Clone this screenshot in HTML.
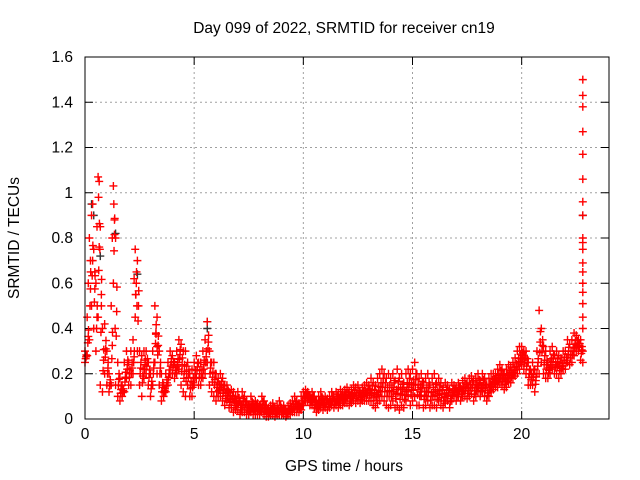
<!DOCTYPE html>
<html><head><meta charset="utf-8"><style>
body{margin:0;background:#fff}
svg{display:block;font-family:"Liberation Sans",sans-serif;font-size:15.5px}
</style></head><body>
<svg id="c" width="640" height="480">
<text x="344" y="33" text-anchor="middle">Day 099 of 2022, SRMTID for receiver cn19</text>
<text x="344" y="471" text-anchor="middle">GPS time / hours</text>
<text transform="translate(19,238) rotate(-90)" text-anchor="middle">SRMTID / TECUs</text>
<g id="grid"></g><g id="ticks"></g><g id="marks"></g>
<rect x="85" y="57" width="524" height="362" fill="none" stroke="#000" stroke-width="1"/>
</svg>
<script>
const xTicks=[0,5,10,15,20];
const yTicks=[0,0.2,0.4,0.6,0.8,1,1.2,1.4,1.6];
const yTickLabels=["0","0.2","0.4","0.6","0.8","1","1.2","1.4","1.6"];
const tStart=0, tStep=0.1;
const hiVals=[0.3,0.45,0.8,0.9,0.75,0.6,1.07,0.85,0.4,0.42,0.3,0.2,0.5,1.03,0.8,0.25,0.18,0.15,0.25,0.3,0.25,0.3,0.35,0.75,0.7,0.3,0.28,0.3,0.3,0.25,0.2,0.3,0.5,0.45,0.3,0.2,0.15,0.2,0.25,0.3,0.28,0.25,0.3,0.35,0.33,0.3,0.3,0.25,0.2,0.22,0.25,0.28,0.25,0.25,0.3,0.35,0.43,0.3,0.25,0.25,0.2,0.18,0.2,0.18,0.15,0.15,0.12,0.13,0.12,0.1,0.12,0.08,0.12,0.1,0.08,0.06,0.1,0.07,0.08,0.07,0.06,0.1,0.08,0.06,0.05,0.06,0.07,0.05,0.06,0.08,0.05,0.06,0.04,0.06,0.07,0.08,0.1,0.08,0.07,0.1,0.12,0.13,0.12,0.1,0.12,0.1,0.08,0.1,0.12,0.09,0.1,0.09,0.1,0.12,0.1,0.12,0.11,0.13,0.12,0.13,0.14,0.12,0.13,0.15,0.14,0.15,0.12,0.14,0.15,0.16,0.15,0.18,0.16,0.15,0.18,0.2,0.22,0.2,0.18,0.2,0.18,0.2,0.17,0.22,0.18,0.2,0.16,0.2,0.22,0.2,0.22,0.25,0.2,0.18,0.2,0.16,0.18,0.2,0.15,0.18,0.2,0.16,0.18,0.16,0.14,0.16,0.15,0.13,0.16,0.15,0.14,0.16,0.14,0.17,0.18,0.16,0.18,0.19,0.17,0.18,0.2,0.17,0.2,0.18,0.15,0.18,0.2,0.2,0.2,0.22,0.24,0.22,0.2,0.22,0.24,0.23,0.25,0.27,0.3,0.32,0.32,0.3,0.3,0.25,0.22,0.25,0.22,0.3,0.48,0.4,0.32,0.3,0.25,0.3,0.32,0.28,0.3,0.28,0.27,0.3,0.3,0.35,0.33,0.35,0.38,0.37,0.35,0.35];
const loVals=[0.25,0.28,0.35,0.5,0.4,0.3,0.45,0.15,0.12,0.2,0.15,0.12,0.15,0.6,0.15,0.1,0.08,0.1,0.12,0.18,0.15,0.15,0.2,0.45,0.3,0.15,0.1,0.18,0.2,0.15,0.1,0.15,0.25,0.2,0.15,0.08,0.1,0.12,0.15,0.2,0.2,0.18,0.2,0.22,0.15,0.12,0.1,0.15,0.1,0.1,0.15,0.18,0.15,0.15,0.18,0.2,0.25,0.15,0.12,0.1,0.08,0.1,0.1,0.08,0.06,0.08,0.05,0.05,0.03,0.04,0.04,0.02,0.03,0.03,0.02,0.02,0.03,0.02,0.02,0.02,0.02,0.03,0.02,0.01,0.01,0.02,0.02,0.01,0.02,0.02,0.02,0.02,0.01,0.02,0.02,0.03,0.03,0.03,0.03,0.04,0.06,0.08,0.08,0.06,0.06,0.05,0.03,0.04,0.05,0.04,0.05,0.04,0.05,0.06,0.05,0.06,0.05,0.06,0.06,0.07,0.07,0.06,0.07,0.08,0.07,0.08,0.07,0.08,0.08,0.08,0.08,0.08,0.06,0.05,0.07,0.08,0.1,0.08,0.06,0.05,0.06,0.08,0.05,0.06,0.04,0.06,0.05,0.08,0.1,0.06,0.08,0.1,0.06,0.06,0.1,0.05,0.06,0.08,0.05,0.06,0.06,0.05,0.08,0.06,0.05,0.07,0.08,0.05,0.08,0.1,0.08,0.1,0.08,0.1,0.1,0.09,0.1,0.11,0.08,0.1,0.12,0.1,0.12,0.1,0.08,0.1,0.12,0.13,0.14,0.14,0.16,0.15,0.13,0.14,0.16,0.16,0.18,0.19,0.2,0.22,0.24,0.22,0.2,0.15,0.15,0.15,0.12,0.2,0.2,0.25,0.2,0.18,0.18,0.2,0.22,0.2,0.2,0.18,0.2,0.22,0.22,0.25,0.24,0.25,0.28,0.3,0.3,0.26];
const extraT=[0.15,0.25,0.35,0.45,0.55,0.62,0.65,0.68,0.75,1.25,1.32,1.35,1.38,2.25,2.32,2.38,3.25,3.3,22.8,22.8,22.8,22.8,22.8,22.8,22.8,22.8,22.8,22.8,22.8,22.8,22.8,22.8,22.8,22.8,22.8,22.8,22.8,22.8];
const extraV=[0.6,0.7,0.95,0.65,0.85,0.98,1.05,0.75,0.55,0.8,0.95,0.88,0.4,0.62,0.55,0.5,0.38,0.32,1.5,1.43,1.38,1.27,1.17,1.06,0.96,0.9,0.8,0.78,0.75,0.69,0.65,0.6,0.56,0.51,0.45,0.3,0.25,0.4];
const darkT=[0.3,0.4,0.7,1.4,2.4,5.6,5.6,22.8];
const darkV=[0.95,0.9,0.72,0.82,0.64,0.43,0.4,0.9];

const NS="http://www.w3.org/2000/svg";
const X0=85,X1=609,Y0=419,Y1=57;
const xs=t=>X0+t/24*(X1-X0);
const ys=v=>Y0-v/1.6*(Y0-Y1);
const grid=document.getElementById('grid'),ticks=document.getElementById('ticks'),marks=document.getElementById('marks');
function mk(tag,attrs,parent){const e=document.createElementNS(NS,tag);for(const k in attrs)e.setAttribute(k,attrs[k]);parent.appendChild(e);return e;}
yTicks.forEach((v,i)=>{
  const y=ys(v);
  if(i>0&&i<yTicks.length-1){const g=mk('line',{x1:X0,x2:X1,y1:y,y2:y,stroke:'#a0a0a0','stroke-dasharray':'2,3'},grid);
  
  }
  mk('line',{x1:X0,x2:X0+8,y1:y,y2:y,stroke:'#000'},ticks);
  mk('line',{x1:X1-8,x2:X1,y1:y,y2:y,stroke:'#000'},ticks);
  const t=mk('text',{x:X0-12,y:y+5,'text-anchor':'end'},ticks);t.textContent=yTickLabels[i];
  
  
});
xTicks.forEach(v=>{
  const x=xs(v);
  if(v>0){const g=mk('line',{x1:x,x2:x,y1:Y0,y2:Y1,stroke:'#a0a0a0','stroke-dasharray':'2,3'},grid);
  
  }
  mk('line',{x1:x,x2:x,y1:Y0,y2:Y0-8,stroke:'#000'},ticks);
  mk('line',{x1:x,x2:x,y1:Y1,y2:Y1+8,stroke:'#000'},ticks);
  const t=mk('text',{x:x,y:Y0+20,'text-anchor':'middle'},ticks);t.textContent=String(v);
  
  
});
function plus(t,v,color,name){
  const x=xs(t),y=ys(v);
  const p=mk('path',{d:`M${x-4} ${y}h8M${x} ${y-4}v8`,stroke:color,'stroke-width':1.4,fill:'none'},marks);
  
  
}
darkT.forEach((t,i)=>plus(t,darkV[i],'#333','dark-point'));
hiVals.forEach((v,i)=>{
  const t=tStart+i*tStep, lo=loVals[i];
  plus(t,v,'#ff0000','srmtid-point');
  plus(t,lo,'#ff0000','srmtid-point');
  plus(t+0.03,lo+(v-lo)/3,'#ff0000','srmtid-point');
  plus(t+0.06,lo+2*(v-lo)/3,'#ff0000','srmtid-point');
  plus(t+0.05,(v+lo)/2,'#ff0000','srmtid-point');
});
extraT.forEach((t,i)=>plus(t,extraV[i],'#ff0000','srmtid-point'));
</script>
</body></html>
